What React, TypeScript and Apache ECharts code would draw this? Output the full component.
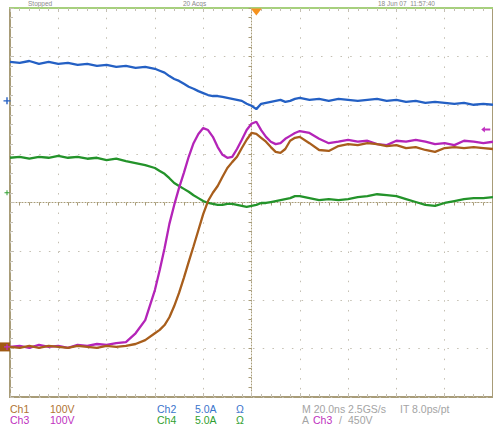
import React, { useEffect, useRef } from "react";
import * as echarts from "echarts";

// Time axis: 20 ns/div, 10 divisions, trigger at centre (0 ns)
const timeNs = [
  -100, -96, -92, -88, -84, -80, -76, -72, -68, -64, -60, -56, -52, -48, -44, -40,
  -38, -36, -34, -32, -30, -28, -26, -24, -22, -20,
  -18, -16, -14, -12, -10, -8, -6, -4, -2, 0,
  2, 4, 6, 8, 10, 12, 14, 16, 18, 20,
  24, 28, 32, 36, 40, 44, 48, 52, 56, 60, 64, 68, 72, 76, 80, 84, 88, 92, 96, 100,
];

// Trace positions in screen divisions (centre = 0, range -4..4)
const ch1Div = [ // brown, 100 V/div
  -2.97, -2.99, -2.95, -2.99, -2.95, -2.97, -2.99, -2.95, -2.97, -2.99, -2.95, -2.97, -2.95, -2.91, -2.83, -2.69,
  -2.62, -2.52, -2.36, -2.13, -1.86, -1.55, -1.22, -0.9, -0.57, -0.24,
  0.03, 0.2, 0.34, 0.53, 0.71, 0.83, 0.94, 1.12, 1.29, 1.43,
  1.41, 1.33, 1.25, 1.14, 1.04, 1.02, 1.1, 1.27, 1.33, 1.35,
  1.22, 1.08, 1.06, 1.16, 1.2, 1.18, 1.22, 1.2, 1.16, 1.18, 1.12, 1.14, 1.08, 1.04, 1.12, 1.14, 1.12, 1.14, 1.12, 1.1,
];
const ch2Div = [ // blue, 5.0 A/div
  2.89, 2.87, 2.91, 2.85, 2.89, 2.85, 2.87, 2.83, 2.85, 2.81, 2.83, 2.79, 2.81, 2.77, 2.79, 2.75,
  2.71, 2.67, 2.6, 2.54, 2.5, 2.44, 2.38, 2.34, 2.29, 2.25,
  2.21, 2.19, 2.19, 2.17, 2.15, 2.13, 2.11, 2.09, 2.03, 1.99,
  1.92, 2.03, 2.05, 2.07, 2.09, 2.11, 2.07, 2.09, 2.13, 2.15,
  2.11, 2.13, 2.09, 2.13, 2.11, 2.09, 2.11, 2.13, 2.09, 2.11, 2.07, 2.09, 2.05, 2.07, 2.05, 2.03, 2.05, 2.01, 2.03, 2.01,
];
const ch3Div = [ // magenta, 100 V/div
  -2.97, -2.95, -2.99, -2.93, -2.97, -2.95, -2.99, -2.93, -2.95, -2.91, -2.93, -2.89, -2.87, -2.69, -2.42, -1.8,
  -1.39, -0.94, -0.44, -0.05, 0.3, 0.61, 0.94, 1.22, 1.41, 1.53,
  1.49, 1.35, 1.14, 0.98, 0.92, 0.94, 1.1, 1.29, 1.49, 1.62,
  1.66, 1.49, 1.35, 1.25, 1.2, 1.22, 1.31, 1.37, 1.43, 1.47,
  1.43, 1.31, 1.22, 1.25, 1.29, 1.25, 1.27, 1.2, 1.18, 1.27, 1.25, 1.29, 1.25, 1.2, 1.22, 1.18, 1.27, 1.25, 1.22, 1.25,
];
const ch4Div = [ // green, 5.0 A/div
  0.92, 0.94, 0.9, 0.94, 0.92, 0.96, 0.92, 0.94, 0.9, 0.92, 0.87, 0.9, 0.85, 0.81, 0.77, 0.71,
  0.65, 0.59, 0.5, 0.4, 0.34, 0.28, 0.22, 0.15, 0.09, 0.03,
  -0.01, -0.03, -0.05, -0.05, -0.03, -0.03, -0.05, -0.07, -0.09, -0.07,
  -0.05, -0.01, -0.01, 0.01, 0.03, 0.05, 0.07, 0.09, 0.13, 0.13,
  0.09, 0.05, 0.07, 0.05, 0.07, 0.11, 0.13, 0.17, 0.15, 0.13, 0.07, 0.01, -0.05, -0.07, -0.01, 0.03, 0.07, 0.09, 0.09, 0.11,
];

// Ground / trigger markers (divisions, ns)
const ch13GroundDiv = -2.97;
const ch2GroundDiv = 2.09;
const ch4GroundDiv = 0.2;
const triggerLevelDiv = 1.5;
const triggerTimeNs = 2;
const triggerMarkerTimeNs = 97;

// Readout texts
const row1 = [
  { t: "Ch1", x: 10, c: "#b07432" },
  { t: "100V", x: 50, c: "#b07432" },
  { t: "Ch2", x: 157, c: "#3a74cc" },
  { t: "5.0A", x: 195, c: "#3a74cc" },
  { t: "Ω", x: 236, c: "#3a74cc" },
  { t: "M 20.0ns 2.5GS/s", x: 302, c: "#a4a4a4" },
  { t: "IT 8.0ps/pt", x: 400, c: "#a4a4a4" },
];
const row2 = [
  { t: "Ch3", x: 10, c: "#c030c0" },
  { t: "100V", x: 50, c: "#c030c0" },
  { t: "Ch4", x: 157, c: "#30a030" },
  { t: "5.0A", x: 195, c: "#30a030" },
  { t: "Ω", x: 236, c: "#30a030" },
  { t: "A", x: 302, c: "#a4a4a4" },
  { t: "Ch3", x: 313, c: "#c030c0" },
  { t: "/", x: 339, c: "#a4a4a4" },
  { t: "450V", x: 348, c: "#a4a4a4" },
];
const topTexts = [
  { t: "Stopped", x: 28 },
  { t: "20 Acqs", x: 183 },
  { t: "18 Jun 07  11:57:40", x: 378 },
];

const TAN = "#a89c78";
const DOT = "#c4bfb2";

export default function App() {
  const ref = useRef<HTMLDivElement>(null);
  useEffect(() => {
    if (!ref.current) return;
    const chart = echarts.init(ref.current, undefined, { renderer: "svg" });
    const trace = (vals: number[], color: string, z: number) => ({
      type: "line",
      xAxisIndex: 0,
      yAxisIndex: 0,
      data: timeNs.map((t, i) => [t, vals[i]]),
      showSymbol: false,
      symbol: "none",
      lineStyle: { color, width: 2.3 },
      z,
      silent: true,
    });
    const marker = (
      pt: number[],
      symbol: string,
      size: any,
      color: string,
      offset: number[],
      z: number
    ) => ({
      type: "scatter",
      xAxisIndex: 0,
      yAxisIndex: 0,
      clip: false,
      silent: true,
      data: [pt],
      symbol,
      symbolSize: size,
      symbolOffset: offset,
      itemStyle: { color, opacity: 1 },
      z,
    });
    const plus = "path://M2,0H3V2H5V3H3V5H2V3H0V2H2Z";
    const option: any = {
      animation: false,
      backgroundColor: "#ffffff",
      grid: {
        left: 10,
        top: 8,
        width: 487,
        height: 389,
        show: true,
        borderColor: TAN,
        borderWidth: 2,
        backgroundColor: "#ffffff",
        containLabel: false,
      },
      xAxis: [
        {
          type: "value",
          min: -100,
          max: 100,
          interval: 20,
          axisLine: {
            show: true,
            onZero: true,
            onZeroAxisIndex: 0,
            lineStyle: { color: TAN, type: [1, 2], width: 1 },
          },
          axisTick: { show: true, length: 3, lineStyle: { color: TAN } },
          minorTick: { show: true, splitNumber: 5, length: 3, lineStyle: { color: TAN } },
          axisLabel: { show: false },
          splitLine: { show: true, lineStyle: { color: DOT, type: [1.5, 8.24], width: 1 } },
        },
        {
          type: "value",
          position: "top",
          min: -100,
          max: 100,
          interval: 20,
          axisLine: { show: true, onZero: false, lineStyle: { color: "#a6d07c", width: 2 } },
          axisTick: { show: true, inside: true, length: 4, lineStyle: { color: DOT } },
          minorTick: { show: true, splitNumber: 5, length: 3, lineStyle: { color: DOT } },
          axisLabel: { show: false },
          splitLine: { show: false },
        },
        {
          type: "value",
          position: "bottom",
          min: -100,
          max: 100,
          interval: 20,
          axisLine: { show: false, onZero: false },
          axisTick: { show: true, inside: true, length: 4, lineStyle: { color: DOT } },
          minorTick: { show: true, splitNumber: 5, length: 3, lineStyle: { color: DOT } },
          axisLabel: { show: false },
          splitLine: { show: false },
        },
      ],
      yAxis: [
        {
          type: "value",
          min: -4,
          max: 4,
          interval: 1,
          axisLine: {
            show: true,
            onZero: true,
            onZeroAxisIndex: 0,
            lineStyle: { color: TAN, type: [1, 2], width: 1 },
          },
          axisTick: { show: true, length: 3, lineStyle: { color: TAN } },
          minorTick: { show: true, splitNumber: 5, length: 3, lineStyle: { color: TAN } },
          axisLabel: { show: false },
          splitLine: { show: true, lineStyle: { color: DOT, type: [1.5, 8.22], width: 1 } },
        },
        {
          type: "value",
          position: "left",
          min: -4,
          max: 4,
          interval: 1,
          axisLine: { show: false, onZero: false },
          axisTick: { show: true, inside: true, length: 4, lineStyle: { color: DOT } },
          minorTick: { show: true, splitNumber: 5, length: 3, lineStyle: { color: DOT } },
          axisLabel: { show: false },
          splitLine: { show: false },
        },
      ],
      series: [
        trace(ch2Div, "#2460c4", 3),
        trace(ch4Div, "#23932a", 4),
        trace(ch3Div, "#b424b8", 5),
        trace(ch1Div, "#a85e1c", 6),
        marker([-100, ch13GroundDiv], "rect", [10, 9], "#a05a14", [-5, 0], 7),
        marker([-100, ch13GroundDiv], plus, 6, "#c030c0", [-3, 0], 8),
        marker([-100, ch2GroundDiv], plus, 7, "#2460c4", [-3, 0], 8),
        marker([-100, ch4GroundDiv], plus, 5, "#30a030", [-3, 0], 8),
        marker(
          [triggerMarkerTimeNs, triggerLevelDiv],
          "path://M0,3L4,0L4,2L10,2L10,4L4,4L4,6Z",
          [9, 6],
          "#c030c0",
          [0, 0],
          8
        ),
        marker([triggerTimeNs, 4], "path://M0,0L10,0L5,6Z", [11, 7], "#f5921e", [0, 4], 9),
      ],
      graphic: [
        ...row1.map((r) => ({
          type: "text",
          x: r.x,
          y: 408.5,
          silent: true,
          style: {
            text: r.t,
            fill: r.c,
            font: "10.5px 'Liberation Sans', Arial, sans-serif",
            verticalAlign: "middle",
          },
        })),
        ...row2.map((r) => ({
          type: "text",
          x: r.x,
          y: 419.5,
          silent: true,
          style: {
            text: r.t,
            fill: r.c,
            font: "10.5px 'Liberation Sans', Arial, sans-serif",
            verticalAlign: "middle",
          },
        })),
        ...topTexts.map((r) => ({
          type: "text",
          x: r.x,
          y: 0,
          silent: true,
          style: {
            text: r.t,
            fill: "#8a8a8a",
            font: "6.5px 'Liberation Sans', Arial, sans-serif",
            verticalAlign: "top",
          },
        })),
      ],
    };
    chart.setOption(option);
    return () => chart.dispose();
  }, []);
  return (
    <div
      ref={ref}
      style={{ position: "absolute", left: 0, top: 0, width: 493, height: 426, background: "#fff" }}
    />
  );
}
